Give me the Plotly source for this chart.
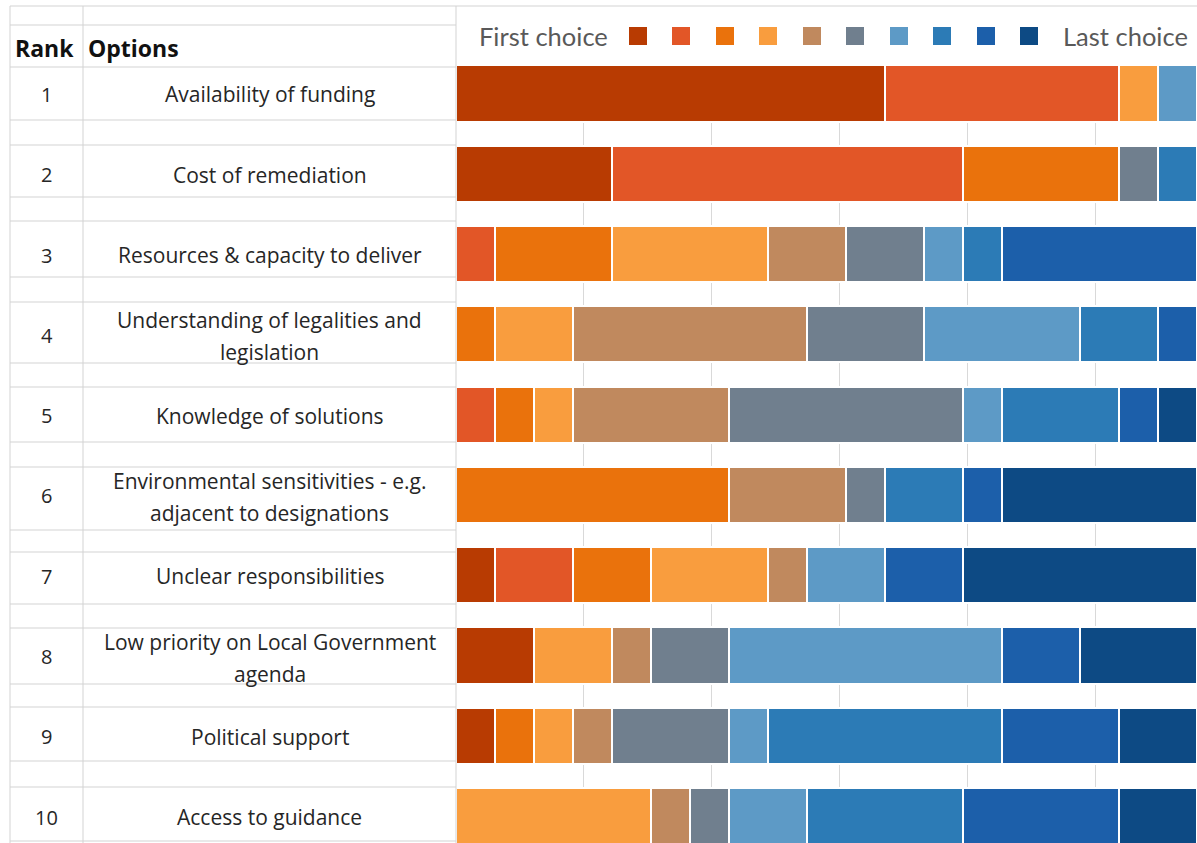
import plotly.graph_objects as go

# ---- data -------------------------------------------------------------
ranks = [1, 2, 3, 4, 5, 6, 7, 8, 9, 10]
options = [
    ["Availability of funding"],
    ["Cost of remediation"],
    ["Resources & capacity to deliver"],
    ["Understanding of legalities and", "legislation"],
    ["Knowledge of solutions"],
    ["Environmental sensitivities - e.g.", "adjacent to designations"],
    ["Unclear responsibilities"],
    ["Low priority on Local Government", "agenda"],
    ["Political support"],
    ["Access to guidance"],
]

# number of respondents placing each option at choice 1 (first) .. 10 (last)
choice_1 = [11, 4, 0, 0, 0, 0, 1, 2, 1, 0]
choice_2 = [6, 9, 1, 0, 1, 0, 2, 0, 0, 0]
choice_3 = [0, 4, 3, 1, 1, 7, 2, 0, 1, 0]
choice_4 = [1, 0, 4, 2, 1, 0, 3, 2, 1, 5]
choice_5 = [0, 0, 2, 6, 4, 3, 1, 1, 1, 1]
choice_6 = [0, 1, 2, 3, 6, 1, 0, 2, 3, 1]
choice_7 = [1, 0, 1, 4, 1, 0, 2, 7, 1, 2]
choice_8 = [0, 1, 1, 2, 3, 2, 0, 0, 6, 4]
choice_9 = [0, 0, 5, 1, 1, 1, 2, 2, 3, 4]
choice_10 = [0, 0, 0, 0, 1, 5, 6, 3, 2, 2]

choices = [choice_1, choice_2, choice_3, choice_4, choice_5,
           choice_6, choice_7, choice_8, choice_9, choice_10]
choice_names = [f"Choice {i}" for i in range(1, 11)]
colors = ["#B83B02", "#E25627", "#EA720C", "#F99D3E", "#C0895E",
          "#707F8E", "#5D9AC6", "#2C7BB6", "#1C5FAA", "#0D4A84"]

# ---- page geometry (pixels) ----------------------------------------------
W, H = 1197, 843
FONT = "Open Sans"
LEGEND_FONT = "Lato"
TEXT = "#262626"
GRID = "#D3D3D3"


def px(x):
    return x / W


def py(y):
    return 1 - y / H


fig = go.Figure()

for name, vals, col in zip(choice_names, choices, colors):
    fig.add_trace(go.Bar(
        x=vals, y=ranks, orientation="h", name=name,
        marker=dict(color=col, line=dict(color="white", width=2)),
        hoverinfo="x+name",
    ))

# ---- spreadsheet-style table grid ----------------------------------------
shapes = []
row_lines = [6, 25, 67, 120, 145, 197, 221, 277, 302, 363, 387, 442, 467,
             530, 552, 604, 628, 684, 707, 761, 787, 841]
for y in row_lines:
    shapes.append(dict(type="line", xref="paper", yref="paper",
                       x0=px(10), x1=px(456) if y != 6 else 1,
                       y0=py(y), y1=py(y),
                       line=dict(color=GRID, width=1)))
for x in [10, 83, 456]:
    shapes.append(dict(type="line", xref="paper", yref="paper",
                       x0=px(x), x1=px(x), y0=py(6), y1=0,
                       line=dict(color=GRID, width=1)))

# ---- legend strip: First choice [squares] Last choice --------------------
sq_left = [629, 672, 716, 759, 803, 846, 890, 933, 977, 1020]
for x0, col in zip(sq_left, colors):
    shapes.append(dict(type="rect", xref="paper", yref="paper",
                       x0=px(x0), x1=px(x0 + 18), y0=py(45), y1=py(27),
                       fillcolor=col, line=dict(width=0)))

annotations = [
    dict(text="First choice", x=px(477), y=py(36), xanchor="left",
         font=dict(family=LEGEND_FONT, size=25.5, color="#595959")),
    dict(text="Last choice", x=px(1061), y=py(36), xanchor="left",
         font=dict(family=LEGEND_FONT, size=25.5, color="#595959")),
    dict(text="<b>Rank</b>", x=px(13), y=py(48), xanchor="left",
         font=dict(family=FONT, size=23, color="#111111")),
    dict(text="<b>Options</b>", x=px(86), y=py(48), xanchor="left",
         font=dict(family=FONT, size=23, color="#111111")),
]
for a in annotations:
    a.update(xref="paper", yref="paper", yanchor="middle", showarrow=False)

for r, lines in zip(ranks, options):
    annotations.append(dict(
        text=str(r), xref="paper", yref="y", x=px(46.5), y=r, yshift=-1,
        xanchor="center", yanchor="middle", showarrow=False,
        font=dict(family=FONT, size=20, color=TEXT)))
    if len(lines) == 1:
        shifts = [-1]
    else:
        shifts = [14, -18]
    for line, s in zip(lines, shifts):
        annotations.append(dict(
            text=line, xref="paper", yref="y", x=px(269.5), y=r, yshift=s,
            xanchor="center", yanchor="middle", showarrow=False,
            font=dict(family=FONT, size=21, color=TEXT)))

fig.update_layout(
    width=W, height=H,
    margin=dict(l=0, r=0, t=0, b=0),
    paper_bgcolor="white", plot_bgcolor="white",
    barmode="stack", bargap=0.30,
    showlegend=False,
    shapes=shapes, annotations=annotations,
    xaxis=dict(domain=[px(456), 1], range=[0, 19], showgrid=True,
               gridcolor="#D9D9D9", gridwidth=1, tick0=0, dtick=3.28,
               showticklabels=False, zeroline=False, ticks="",
               fixedrange=True),
    yaxis=dict(domain=[0, py(64)], range=[10.334, 0.633],
               showgrid=False, showticklabels=False, zeroline=False,
               ticks="", fixedrange=True),
)

fig.write_html("out.html")
